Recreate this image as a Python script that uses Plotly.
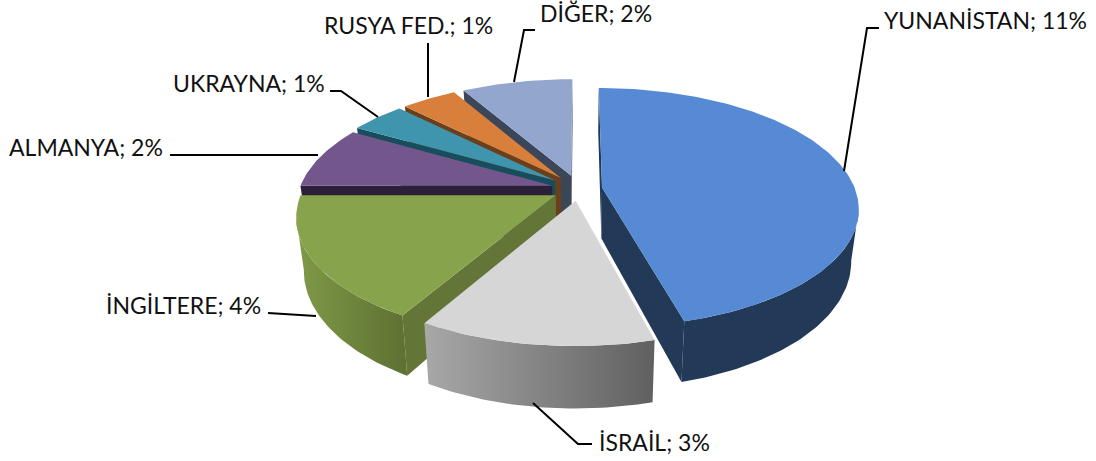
import numpy as np
import plotly.graph_objects as go

# ---- data ----
names = ["YUNANİSTAN", "İSRAİL", "İNGİLTERE", "ALMANYA", "UKRAYNA", "RUSYA FED.", "DİĞER"]
values = [11, 3, 4, 2, 1, 1, 2]

# ---- style ----
top_colors = ["#568ad4", "#d6d6d6", "#87a34c", "#73568c", "#4095ae", "#d8803b", "#92a6ce"]
wall_colors = ["#233958", "#7a7a7a", "#637637", "#2c2039", "#174d5c", "#6b3f1a", "#3c4659"]
rim_colors = [None, ("#a8a8a8", "#606060"), ("#7f9a47", "#5e7033"), None, None, None, None]
explode = [0.092, 0.10, 0.105, 0.11, 0.12, 0.12, 0.12]
draw_order = [6, 5, 4, 3, 2, 0, 1]

CX, CY, B, A, P, DEPTH, SHRINK = 579, 189, 253, 116.7, 1 / 6, 51, 0.027
FONT = "Lato"

# label: centre x, centre y ; leader polyline
label_pos = [(985, 20), (654, 442), (183, 305), (86, 147), (249, 83), (408, 25), (596, 13)]
leaders = [
    [(879, 28), (867, 28), (844, 171)],
    [(592, 444), (578, 444), (533, 403)],
    [(268, 313), (316, 316)],
    [(170, 155), (318, 155)],
    [(330, 91), (341, 91), (378, 117)],
    [(428, 43), (428, 97)],
    [(535, 30), (524, 30), (514, 82)],
]


def project(X, Y, drop=0.0):
    w = 1 + P * np.asarray(Y, dtype=float)
    shrink = 1 - SHRINK * drop / DEPTH
    return CX + shrink * B * np.asarray(X, dtype=float) / w, CY + (-A * np.asarray(Y, dtype=float) + drop) / w


def shoelace(xs, ys):
    return float(np.sum(xs * np.roll(ys, -1) - np.roll(xs, -1) * ys))


def poly(fig, xs, ys, color, grad=None):
    kw = dict(fillcolor=color)
    if grad is not None:
        kw = dict(fillgradient=dict(type="horizontal", start=float(np.min(xs)), stop=float(np.max(xs)),
                                    colorscale=[[0, grad[0]], [1, grad[1]]]))
    fig.add_trace(go.Scatter(x=list(xs), y=list(ys), mode="lines", fill="toself",
                             line=dict(width=0, color=color), hoverinfo="skip",
                             showlegend=False, **kw))


fig = go.Figure()
total = sum(values)
edges = np.concatenate([[0], np.cumsum(values)]) / total * 2 * np.pi

for i in draw_order:
    t0, t1 = edges[i], edges[i + 1]
    mid = (t0 + t1) / 2
    ox, oy = explode[i] * np.sin(mid), explode[i] * np.cos(mid)
    th = np.linspace(t0, t1, max(int(np.degrees(t1 - t0)), 2) + 1)
    rx, ry = ox + np.sin(th), oy + np.cos(th)

    # radial cut faces
    for end, sign in ((0, -1), (-1, 1)):
        qx0, qy0 = project([ox, rx[end]], [oy, ry[end]])
        qx1, qy1 = project([rx[end], ox], [ry[end], oy], DEPTH)
        qx, qy = np.concatenate([qx0, qx1]), np.concatenate([qy0, qy1])
        if shoelace(qx, qy) * sign > 0:
            poly(fig, qx, qy, wall_colors[i])

    # outer rim
    vis = np.cos(th) < -P
    if vis.sum() >= 2:
        ax, ay = project(rx[vis], ry[vis])
        bx, by = project(rx[vis][::-1], ry[vis][::-1], DEPTH)
        poly(fig, np.concatenate([ax, bx]), np.concatenate([ay, by]), wall_colors[i], rim_colors[i])

    # top face
    tx, ty = project(np.concatenate([[ox], rx]), np.concatenate([[oy], ry]))
    poly(fig, tx, ty, top_colors[i])

shapes = []
for pts in leaders:
    path = "M " + " L ".join(f"{x},{y}" for x, y in pts)
    shapes.append(dict(type="path", path=path, xref="x", yref="y", layer="above",
                       line=dict(color="#000000", width=2)))

annotations = [
    dict(x=x, y=y, xref="x", yref="y", text=f"{n}; {v}%", showarrow=False, xanchor="center", yanchor="middle",
         font=dict(family=FONT, size=23, color="#111111"))
    for n, v, (x, y) in zip(names, values, label_pos)
]

fig.update_layout(
    width=1096, height=461, margin=dict(l=0, r=0, t=0, b=0, pad=0),
    paper_bgcolor="#ffffff", plot_bgcolor="#ffffff", showlegend=False,
    xaxis=dict(range=[0, 1096], visible=False, fixedrange=True),
    yaxis=dict(range=[461, 0], visible=False, fixedrange=True),
    shapes=shapes, annotations=annotations,
)
fig.write_html("out.html", config={"displayModeBar": False},
               post_script="document.body.style.margin='0';document.body.style.overflow='hidden';")
